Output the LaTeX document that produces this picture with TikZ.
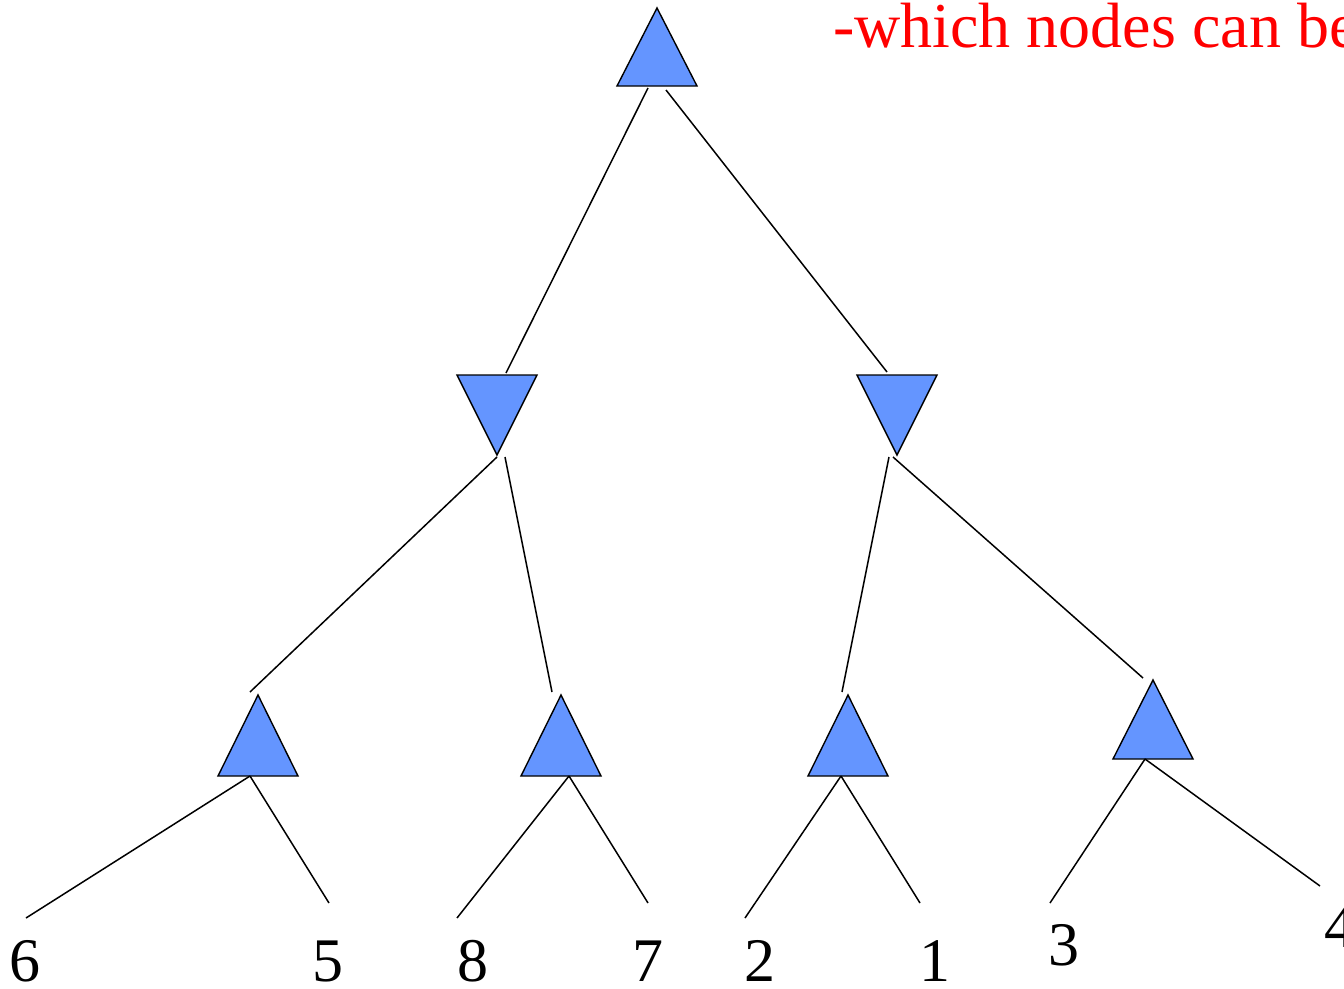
\documentclass[tikz,border=0pt]{standalone}
\usepackage{fontspec}
\setmainfont{Liberation Serif}
\definecolor{tribl}{HTML}{6495FF}
\begin{document}
\begin{tikzpicture}[x=1pt,y=-1pt,
  tri/.style={fill=tribl,draw=black,line width=1.4pt,line join=miter},
  edge/.style={draw=black,line width=1.5pt},
  lbl/.style={inner sep=0pt,anchor=base,font=\fontsize{62}{70}\selectfont}]
\useasboundingbox (0,0) rectangle (1344,988);
\clip (0,0) rectangle (1344,988);
% triangles
\filldraw[tri] (657,8) -- (697,86) -- (617,86) -- cycle;
\filldraw[tri] (457,375) -- (537,375) -- (497,455) -- cycle;
\filldraw[tri] (857,375) -- (937,375) -- (897,455) -- cycle;
\filldraw[tri] (258,695) -- (298,776) -- (218,776) -- cycle;
\filldraw[tri] (561,695) -- (601,776) -- (521,776) -- cycle;
\filldraw[tri] (848,695) -- (888,776) -- (808,776) -- cycle;
\filldraw[tri] (1153,680) -- (1193,759) -- (1113,759) -- cycle;
% coordinates
\coordinate (r1) at (648,88);  \coordinate (l1) at (506,373);
\coordinate (r2) at (666,90);  \coordinate (m1) at (887,372);
\coordinate (la) at (497,457); \coordinate (a0) at (250,692);
\coordinate (lb) at (505,457); \coordinate (b0) at (552,692);
\coordinate (ma) at (889,457); \coordinate (c0) at (842,692);
\coordinate (mb) at (893,457); \coordinate (d0) at (1143,678);
\coordinate (A) at (250,776);  \coordinate (a1) at (26,918);  \coordinate (a2) at (329,903);
\coordinate (B) at (569,776);  \coordinate (b1) at (457,918); \coordinate (b2) at (648,903);
\coordinate (C) at (841,776);  \coordinate (c1) at (745,918); \coordinate (c2) at (920,903);
\coordinate (D) at (1145,759); \coordinate (d1) at (1050,903); \coordinate (d2) at (1320,886);
\draw[edge] (r1) -- (l1);
\draw[edge] (r2) -- (m1);
\draw[edge] (la) -- (a0);
\draw[edge] (lb) -- (b0);
\draw[edge] (ma) -- (c0);
\draw[edge] (mb) -- (d0);
\draw[edge] (A) -- (a1); \draw[edge] (A) -- (a2);
\draw[edge] (B) -- (b1); \draw[edge] (B) -- (b2);
\draw[edge] (C) -- (c1); \draw[edge] (C) -- (c2);
\draw[edge] (D) -- (d1); \draw[edge] (D) -- (d2);
% labels
\node[lbl] (n6) at (25,981) {6};
\node[lbl] (n5) at (328,981) {5};
\node[lbl] (n8) at (473,981) {8};
\node[lbl] (n7) at (648,981) {7};
\node[lbl] (n2) at (760,981) {2};
\node[lbl] (n1) at (935,981) {1};
\node[lbl] (n3) at (1064,965) {3};
\node[lbl] (n4) at (1340,947) {4};
\node[inner sep=0pt,anchor=base west,text=red,font=\fontsize{64}{72}\selectfont] (note) at (833,47) {-which nodes can be};
\end{tikzpicture}
\end{document}
